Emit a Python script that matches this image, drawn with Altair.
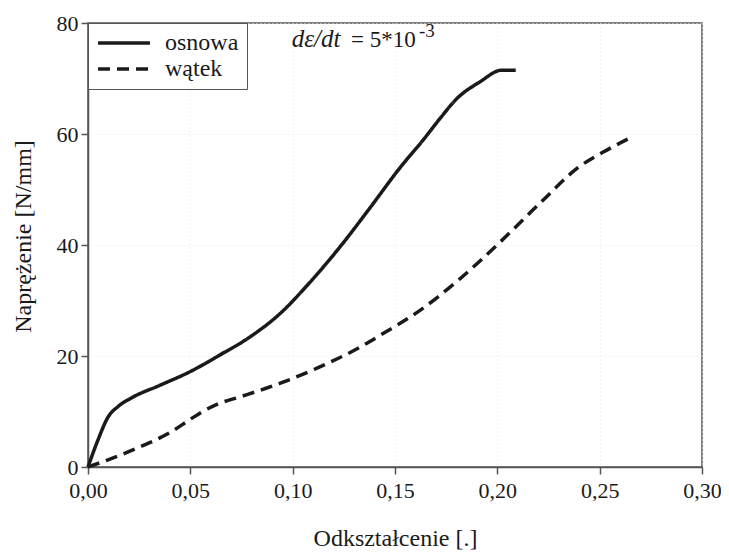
import altair as alt
import pandas as pd

# Data
osnowa_x = [0.0, 0.0049, 0.0098, 0.0147, 0.021, 0.035, 0.050, 0.0645, 0.079, 0.094,
            0.108, 0.123, 0.1378, 0.1524, 0.1637, 0.172, 0.180, 0.1915, 0.2022, 0.209]
osnowa_y = [0.0, 4.9, 9.0, 10.9, 12.4, 14.7, 17.2, 20.2, 23.4, 27.7,
            33.1, 39.6, 46.7, 53.9, 58.9, 62.8, 66.3, 69.4, 71.5, 71.5]

watek_x = [0.0, 0.0098, 0.024, 0.0405, 0.050, 0.056, 0.063, 0.074, 0.094, 0.113, 0.133, 0.143,
           0.161, 0.182, 0.201, 0.221, 0.240, 0.2535, 0.266]
watek_y = [0.0, 1.3, 3.4, 6.3, 8.6, 10.0, 11.3, 12.6, 15.1, 18.0, 21.6, 23.8,
           27.9, 34.0, 40.4, 47.6, 54.1, 57.1, 59.5]

series_names = ["osnowa", "wątek"]
x_ticks = [0.0, 0.05, 0.10, 0.15, 0.20, 0.25, 0.30]
y_ticks = [0, 20, 40, 60, 80]

ann_text = ["dε/dt", "= 5*10", "-3"]
ann_x = [0.0995, 0.1285, 0.1617]
ann_y = [75.7, 75.7, 77.5]

FONT = "'Liberation Serif', 'DejaVu Serif', serif"

rows = []
for i, (x, y) in enumerate(zip(osnowa_x, osnowa_y)):
    rows.append({"x": x, "y": y, "series": series_names[0], "order": i})
for i, (x, y) in enumerate(zip(watek_x, watek_y)):
    rows.append({"x": x, "y": y, "series": series_names[1], "order": i})
df = pd.DataFrame(rows)

ann = pd.DataFrame({"text": ann_text, "x": ann_x, "y": ann_y})

xscale = alt.Scale(domain=[0, 0.30], nice=False, zero=False)
yscale = alt.Scale(domain=[0, 80], nice=False)

lines = alt.Chart(df).mark_line(color="#1a1a1a", strokeWidth=3.5, interpolate="monotone").encode(
    x=alt.X("x:Q", scale=xscale,
            axis=alt.Axis(title="Odkształcenie [.]", values=x_ticks, labelFlush=False,
                          labelExpr="replace(format(datum.value, '.2f'), '.', ',')",
                          titleY=78, titleBaseline="alphabetic")),
    y=alt.Y("y:Q", scale=yscale,
            axis=alt.Axis(title="Naprężenie [N/mm]", values=y_ticks, labelFlush=False,
                          titleX=-65, titleY=213, titleBaseline="middle")),
    strokeDash=alt.StrokeDash("series:N",
        scale=alt.Scale(domain=series_names, range=[[1, 0], [12, 7]]),
        legend=alt.Legend(title=None, orient="none", legendX=0, legendY=0,
                          symbolType="stroke", symbolSize=2700, symbolStrokeWidth=3.5,
                          symbolStrokeColor="#1a1a1a", clipHeight=24,
                          labelFont=FONT, labelFontSize=24, labelColor="#1a1a1a",
                          labelOffset=13, rowPadding=2,
                          padding=8, strokeColor="#555", fillColor="white")),
    order="order:Q",
)

ann_it = alt.Chart(ann.iloc[[0]]).mark_text(
    font=FONT, fontSize=25, fontStyle="italic", align="left", baseline="alphabetic", color="#1a1a1a"
).encode(x=alt.X("x:Q", scale=xscale), y=alt.Y("y:Q", scale=yscale), text="text:N")

ann_rg = alt.Chart(ann.iloc[[1]]).mark_text(
    font=FONT, fontSize=23, align="left", baseline="alphabetic", color="#1a1a1a"
).encode(x=alt.X("x:Q", scale=xscale), y=alt.Y("y:Q", scale=yscale), text="text:N")

ann_sup = alt.Chart(ann.iloc[[2]]).mark_text(
    font=FONT, fontSize=19, align="left", baseline="alphabetic", color="#1a1a1a"
).encode(x=alt.X("x:Q", scale=xscale), y=alt.Y("y:Q", scale=yscale), text="text:N")

chart = alt.layer(lines, ann_it, ann_rg, ann_sup).properties(
    width=614, height=444,
    autosize=alt.AutoSizeParams(type="none"),
    padding={"left": 80, "top": 15, "right": 19, "bottom": 84},
).configure_view(
    stroke="#555", strokeWidth=1.5
).configure_axis(
    labelFont=FONT, labelFontSize=22, labelColor="#1a1a1a",
    titleFont=FONT, titleFontSize=24, titleColor="#1a1a1a", titleFontWeight="normal",
    domainColor="#555", domainWidth=1.5, tickColor="#555", tickWidth=1.5, tickSize=7,
    grid=True, gridColor="#e6e6e6", gridDash=[1, 3], gridWidth=1,
).configure_axisX(labelPadding=6).configure_axisY(labelPadding=3)

chart.save("out.html", embed_options={"renderer": "svg", "actions": False})
